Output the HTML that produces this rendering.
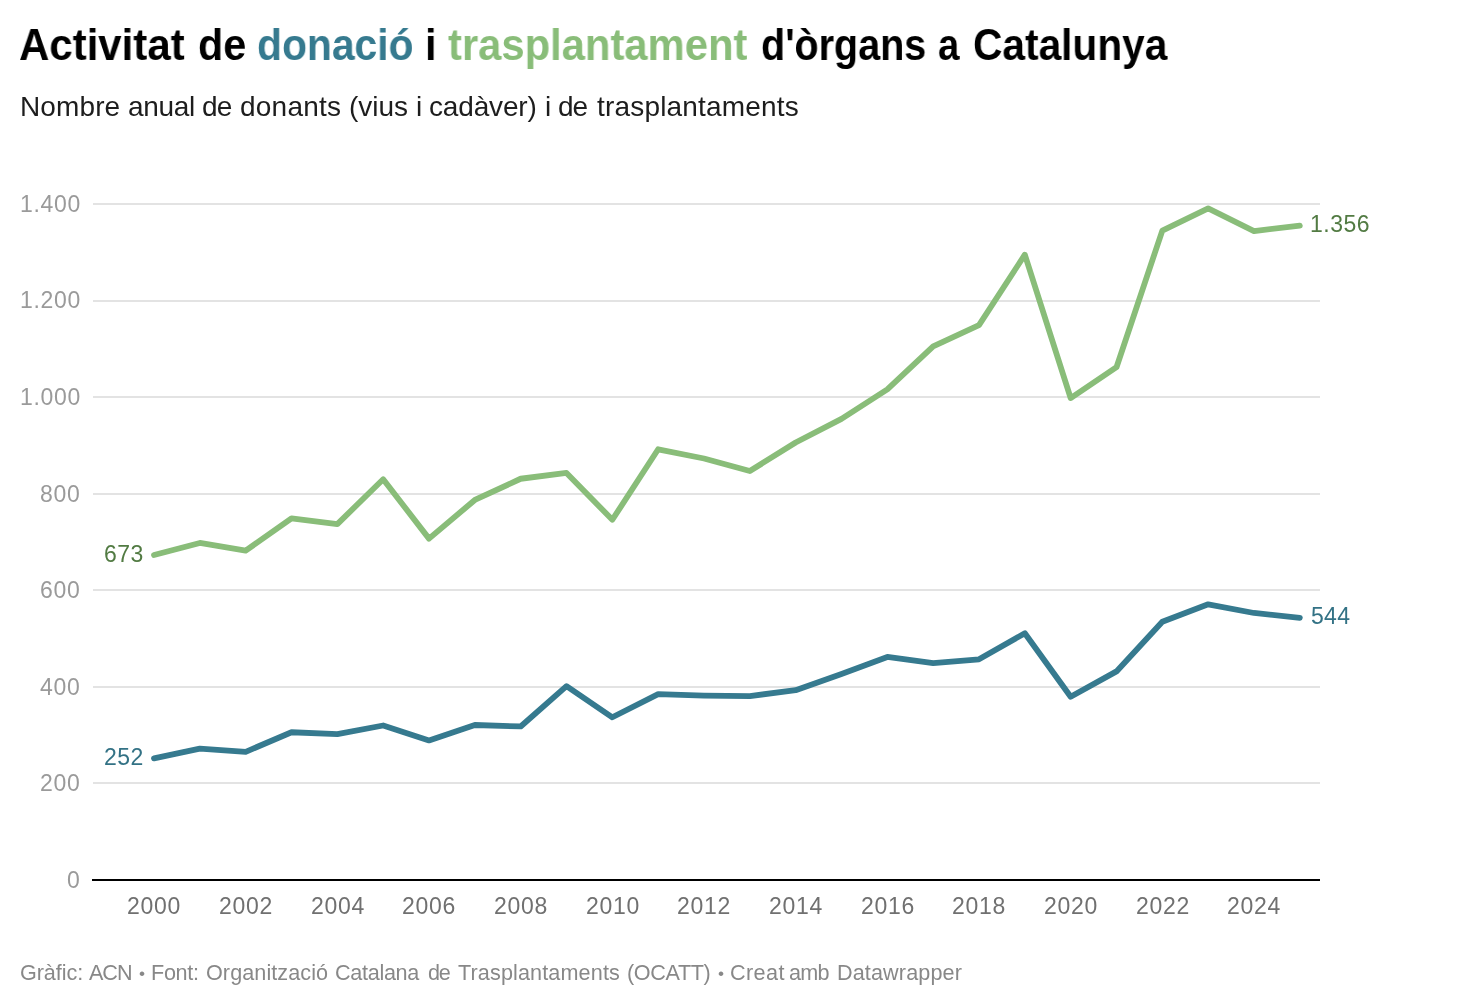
<!DOCTYPE html>
<html><head><meta charset="utf-8">
<style>
html,body{margin:0;padding:0;background:#fff;}
body{width:1472px;height:1006px;position:relative;overflow:hidden;font-family:"Liberation Sans",sans-serif;}
div{position:absolute;white-space:nowrap;will-change:transform;}
svg{position:absolute;left:0;top:0;}
</style></head><body>
<div style="left:19.45px;top:22.75px;font-size:44px;line-height:44px;color:#000;font-weight:bold;letter-spacing:0px;transform:scaleX(0.9541);transform-origin:0 0;">Activitat</div>
<div style="left:197.76px;top:22.75px;font-size:44px;line-height:44px;color:#000;font-weight:bold;letter-spacing:0px;transform:scaleX(0.9370);transform-origin:0 0;">de</div>
<div style="left:257.27px;top:22.75px;font-size:44px;line-height:44px;color:#367a8f;font-weight:bold;letter-spacing:0px;transform:scaleX(0.9281);transform-origin:0 0;">donació</div>
<div style="left:424.97px;top:22.75px;font-size:44px;line-height:44px;color:#000;font-weight:bold;letter-spacing:0px;transform:scaleX(0.9429);transform-origin:0 0;">i</div>
<div style="left:448.20px;top:22.75px;font-size:44px;line-height:44px;color:#89bd79;font-weight:bold;letter-spacing:0px;transform:scaleX(0.9491);transform-origin:0 0;">trasplantament</div>
<div style="left:760.60px;top:22.75px;font-size:44px;line-height:44px;color:#000;font-weight:bold;letter-spacing:0px;transform:scaleX(0.8978);transform-origin:0 0;">d'òrgans</div>
<div style="left:937.53px;top:22.75px;font-size:44px;line-height:44px;color:#000;font-weight:bold;letter-spacing:0px;transform:scaleX(0.8667);transform-origin:0 0;">a</div>
<div style="left:972.58px;top:22.75px;font-size:44px;line-height:44px;color:#000;font-weight:bold;letter-spacing:0px;transform:scaleX(0.9246);transform-origin:0 0;">Catalunya</div>
<div style="left:19.60px;top:92.80px;font-size:28px;line-height:28px;color:#1d1d1d;font-weight:normal;letter-spacing:0.117px;">Nombre</div>
<div style="left:127.90px;top:92.80px;font-size:28px;line-height:28px;color:#1d1d1d;font-weight:normal;letter-spacing:-0.322px;">anual</div>
<div style="left:202.20px;top:92.80px;font-size:28px;line-height:28px;color:#1d1d1d;font-weight:normal;letter-spacing:-0.772px;">de</div>
<div style="left:240.00px;top:92.80px;font-size:28px;line-height:28px;color:#1d1d1d;font-weight:normal;letter-spacing:0.227px;">donants</div>
<div style="left:349.10px;top:92.80px;font-size:28px;line-height:28px;color:#1d1d1d;font-weight:normal;letter-spacing:-0.054px;">(vius</div>
<div style="left:416.10px;top:92.80px;font-size:28px;line-height:28px;color:#1d1d1d;font-weight:normal;letter-spacing:0px;">i</div>
<div style="left:429.10px;top:92.80px;font-size:28px;line-height:28px;color:#1d1d1d;font-weight:normal;letter-spacing:-0.159px;">cadàver)</div>
<div style="left:544.60px;top:92.80px;font-size:28px;line-height:28px;color:#1d1d1d;font-weight:normal;letter-spacing:0px;">i</div>
<div style="left:557.50px;top:92.80px;font-size:28px;line-height:28px;color:#1d1d1d;font-weight:normal;letter-spacing:-1.172px;">de</div>
<div style="left:597.00px;top:92.80px;font-size:28px;line-height:28px;color:#1d1d1d;font-weight:normal;letter-spacing:0.185px;">trasplantaments</div>

<svg width="1472" height="1006">
<line x1="93" x2="1320" y1="783" y2="783" stroke="#e3e3e3" stroke-width="2"/>
<line x1="93" x2="1320" y1="687" y2="687" stroke="#e3e3e3" stroke-width="2"/>
<line x1="93" x2="1320" y1="590" y2="590" stroke="#e3e3e3" stroke-width="2"/>
<line x1="93" x2="1320" y1="494" y2="494" stroke="#e3e3e3" stroke-width="2"/>
<line x1="93" x2="1320" y1="397" y2="397" stroke="#e3e3e3" stroke-width="2"/>
<line x1="93" x2="1320" y1="301" y2="301" stroke="#e3e3e3" stroke-width="2"/>
<line x1="93" x2="1320" y1="204" y2="204" stroke="#e3e3e3" stroke-width="2"/>

<line x1="92" x2="1320" y1="880" y2="880" stroke="#000" stroke-width="2"/>
<polyline points="154.00,555.04 199.83,542.97 245.67,550.69 291.50,518.34 337.33,524.13 383.17,479.23 429.00,538.62 474.83,499.99 520.67,478.75 566.50,472.95 612.33,519.79 658.17,449.29 704.00,458.47 749.83,471.02 795.67,442.53 841.50,418.87 887.33,389.42 933.17,346.44 979.00,325.20 1024.83,254.70 1070.67,398.11 1116.50,367.21 1162.33,230.56 1208.17,208.35 1254.00,231.04 1299.83,225.73" fill="none" stroke="#89bd79" stroke-width="5.8" stroke-linejoin="round" stroke-linecap="round"/>
<polyline points="154.00,758.32 199.83,748.66 245.67,751.80 291.50,732.25 337.33,734.18 383.17,725.49 429.00,740.45 474.83,725.00 520.67,726.45 566.50,686.13 612.33,717.28 658.17,694.10 704.00,695.55 749.83,696.03 795.67,690.24 841.50,674.06 887.33,656.92 933.17,663.20 979.00,659.33 1024.83,633.26 1070.67,696.76 1116.50,671.41 1162.33,621.67 1208.17,604.29 1254.00,612.98 1299.83,617.81" fill="none" stroke="#367a8f" stroke-width="5.8" stroke-linejoin="round" stroke-linecap="round"/>
</svg>
<div style="right:1391.10px;top:868.83px;font-size:23px;line-height:23px;color:#9a9a9a;font-weight:normal;letter-spacing:0.7px;">0</div>
<div style="right:1391.10px;top:772.26px;font-size:23px;line-height:23px;color:#9a9a9a;font-weight:normal;letter-spacing:0.7px;">200</div>
<div style="right:1391.10px;top:675.69px;font-size:23px;line-height:23px;color:#9a9a9a;font-weight:normal;letter-spacing:0.7px;">400</div>
<div style="right:1391.10px;top:579.12px;font-size:23px;line-height:23px;color:#9a9a9a;font-weight:normal;letter-spacing:0.7px;">600</div>
<div style="right:1391.10px;top:482.54px;font-size:23px;line-height:23px;color:#9a9a9a;font-weight:normal;letter-spacing:0.7px;">800</div>
<div style="right:1391.10px;top:385.97px;font-size:23px;line-height:23px;color:#9a9a9a;font-weight:normal;letter-spacing:0.7px;">1.000</div>
<div style="right:1391.10px;top:289.40px;font-size:23px;line-height:23px;color:#9a9a9a;font-weight:normal;letter-spacing:0.7px;">1.200</div>
<div style="right:1391.10px;top:192.83px;font-size:23px;line-height:23px;color:#9a9a9a;font-weight:normal;letter-spacing:0.7px;">1.400</div>
<div style="left:-45.65px;width:400px;text-align:center;top:894.53px;font-size:23px;line-height:23px;color:#707070;font-weight:normal;letter-spacing:0.7px;">2000</div>
<div style="left:46.02px;width:400px;text-align:center;top:894.53px;font-size:23px;line-height:23px;color:#707070;font-weight:normal;letter-spacing:0.7px;">2002</div>
<div style="left:137.68px;width:400px;text-align:center;top:894.53px;font-size:23px;line-height:23px;color:#707070;font-weight:normal;letter-spacing:0.7px;">2004</div>
<div style="left:229.35px;width:400px;text-align:center;top:894.53px;font-size:23px;line-height:23px;color:#707070;font-weight:normal;letter-spacing:0.7px;">2006</div>
<div style="left:321.02px;width:400px;text-align:center;top:894.53px;font-size:23px;line-height:23px;color:#707070;font-weight:normal;letter-spacing:0.7px;">2008</div>
<div style="left:412.68px;width:400px;text-align:center;top:894.53px;font-size:23px;line-height:23px;color:#707070;font-weight:normal;letter-spacing:0.7px;">2010</div>
<div style="left:504.35px;width:400px;text-align:center;top:894.53px;font-size:23px;line-height:23px;color:#707070;font-weight:normal;letter-spacing:0.7px;">2012</div>
<div style="left:596.02px;width:400px;text-align:center;top:894.53px;font-size:23px;line-height:23px;color:#707070;font-weight:normal;letter-spacing:0.7px;">2014</div>
<div style="left:687.68px;width:400px;text-align:center;top:894.53px;font-size:23px;line-height:23px;color:#707070;font-weight:normal;letter-spacing:0.7px;">2016</div>
<div style="left:779.35px;width:400px;text-align:center;top:894.53px;font-size:23px;line-height:23px;color:#707070;font-weight:normal;letter-spacing:0.7px;">2018</div>
<div style="left:871.02px;width:400px;text-align:center;top:894.53px;font-size:23px;line-height:23px;color:#707070;font-weight:normal;letter-spacing:0.7px;">2020</div>
<div style="left:962.68px;width:400px;text-align:center;top:894.53px;font-size:23px;line-height:23px;color:#707070;font-weight:normal;letter-spacing:0.7px;">2022</div>
<div style="left:1054.35px;width:400px;text-align:center;top:894.53px;font-size:23px;line-height:23px;color:#707070;font-weight:normal;letter-spacing:0.7px;">2024</div>

<div style="right:1328.80px;top:542.73px;font-size:23px;line-height:23px;color:#527b43;font-weight:normal;letter-spacing:0.4px;">673</div>

<div style="right:1328.30px;top:745.83px;font-size:23px;line-height:23px;color:#337285;font-weight:normal;letter-spacing:0.4px;">252</div>

<div style="left:1309.70px;top:212.73px;font-size:23px;line-height:23px;color:#527b43;font-weight:normal;letter-spacing:0.5px;">1.356</div>

<div style="left:1311.00px;top:604.93px;font-size:23px;line-height:23px;color:#337285;font-weight:normal;letter-spacing:0.3px;">544</div>

<div style="left:19.60px;top:961.72px;font-size:21.6px;line-height:21.6px;color:#888888;font-weight:normal;letter-spacing:-0.065px;">Gràfic:</div>
<div style="left:89.20px;top:961.72px;font-size:21.6px;line-height:21.6px;color:#888888;font-weight:normal;letter-spacing:-1.049px;">ACN</div>
<div style="left:138.80px;top:964.77px;font-size:17.28px;line-height:17.28px;color:#888888;font-weight:normal;letter-spacing:0px;">•</div>
<div style="left:151.40px;top:961.72px;font-size:21.6px;line-height:21.6px;color:#888888;font-weight:normal;letter-spacing:-0.302px;">Font:</div>
<div style="left:205.70px;top:961.72px;font-size:21.6px;line-height:21.6px;color:#888888;font-weight:normal;letter-spacing:0.072px;">Organització</div>
<div style="left:335.10px;top:961.72px;font-size:21.6px;line-height:21.6px;color:#888888;font-weight:normal;letter-spacing:-0.304px;">Catalana</div>
<div style="left:428.30px;top:961.72px;font-size:21.6px;line-height:21.6px;color:#888888;font-weight:normal;letter-spacing:-1.209px;">de</div>
<div style="left:457.90px;top:961.72px;font-size:21.6px;line-height:21.6px;color:#888888;font-weight:normal;letter-spacing:0.127px;">Trasplantaments</div>
<div style="left:627.30px;top:961.72px;font-size:21.6px;line-height:21.6px;color:#888888;font-weight:normal;letter-spacing:-0.36px;">(OCATT)</div>
<div style="left:718.10px;top:964.77px;font-size:17.28px;line-height:17.28px;color:#888888;font-weight:normal;letter-spacing:0px;">•</div>
<div style="left:729.60px;top:961.72px;font-size:21.6px;line-height:21.6px;color:#888888;font-weight:normal;letter-spacing:0.399px;">Creat</div>
<div style="left:788.80px;top:961.72px;font-size:21.6px;line-height:21.6px;color:#888888;font-weight:normal;letter-spacing:-0.799px;">amb</div>
<div style="left:836.50px;top:961.72px;font-size:21.6px;line-height:21.6px;color:#888888;font-weight:normal;letter-spacing:0.126px;">Datawrapper</div>

</body></html>
